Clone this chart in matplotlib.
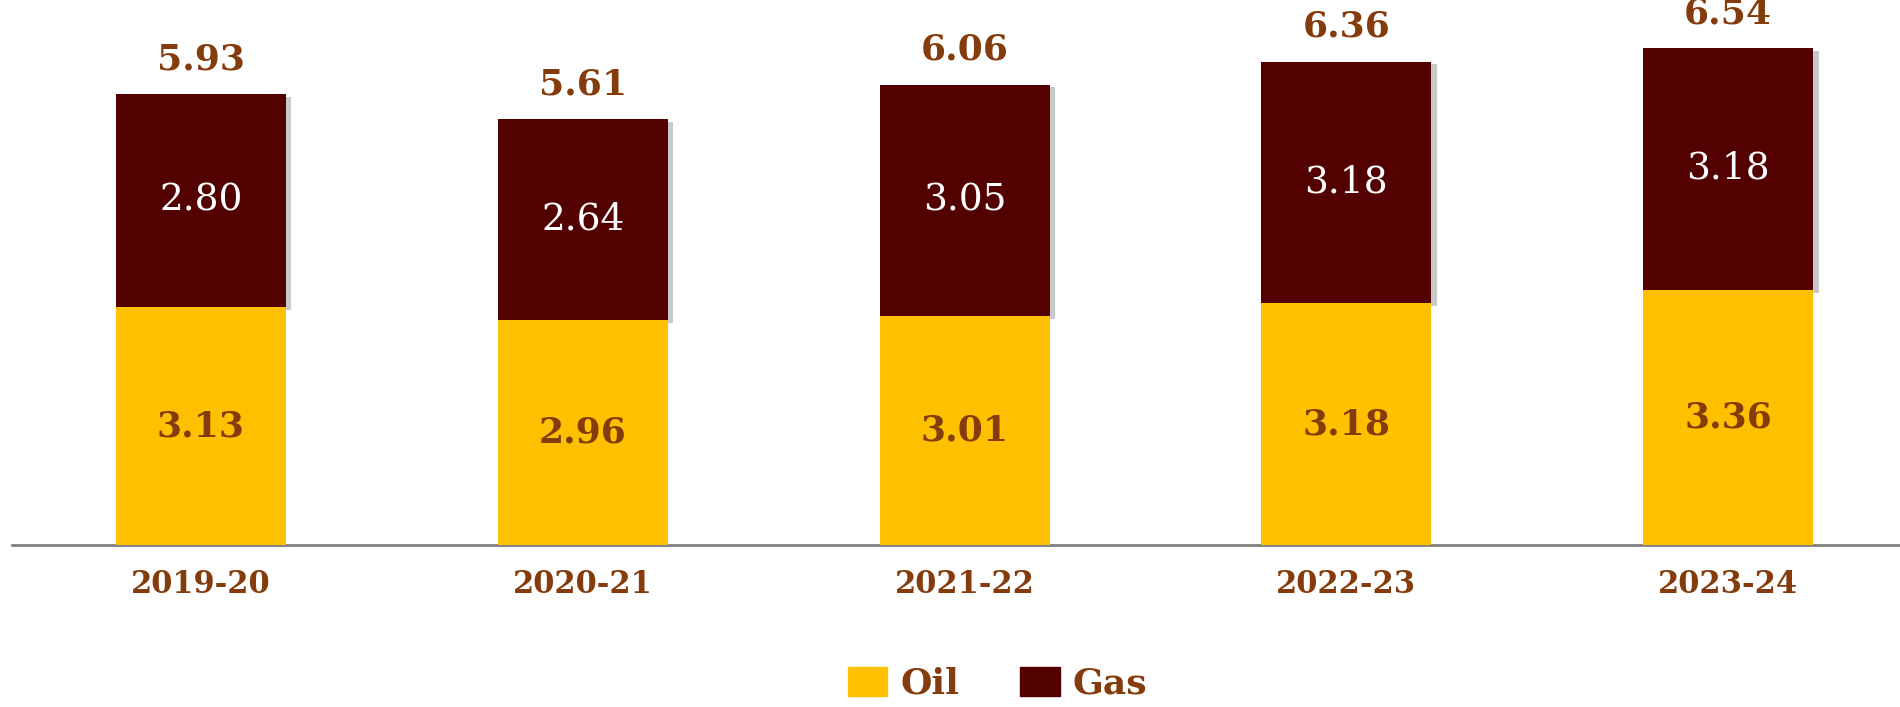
import matplotlib
matplotlib.use("Agg")
import matplotlib.pyplot as plt
import matplotlib.patheffects as pe
from matplotlib.patches import Patch

# Dane: wydobycie ropy i gazu w kolejnych latach
years = ["2019-20", "2020-21", "2021-22", "2022-23", "2023-24"]
oil = [3.13, 2.96, 3.01, 3.18, 3.36]
gas = [2.80, 2.64, 3.05, 3.18, 3.18]
totals = [5.93, 5.61, 6.06, 6.36, 6.54]

OIL_COLOR = "#FFC000"
GAS_COLOR = "#530000"
TEXT_COLOR = "#843C0C"

plt.rcParams["font.family"] = ["DejaVu Serif"]

fig = plt.figure(figsize=(19, 7.07), dpi=100)
ax = fig.add_axes([0.0063, 0.229, 0.9937, 0.7525])

x = list(range(len(years)))
width = 0.445

ax.bar(x, oil, width=width, color=OIL_COLOR, zorder=4)
gas_bars = ax.bar(x, gas, width=width, bottom=oil, color=GAS_COLOR, zorder=3)

# lekki cien po prawej stronie slupkow gazu
for b in gas_bars:
    b.set_path_effects([
        pe.SimplePatchShadow(offset=(4, -2), shadow_rgbFace="#888888", alpha=0.45),
        pe.Normal(),
    ])

# etykiety wartosci
for i in x:
    ax.text(i, oil[i] / 2, f"{oil[i]:.2f}", ha="center", va="center",
            fontsize=26, fontweight="bold", color=TEXT_COLOR, zorder=5)
    ax.text(i, oil[i] + gas[i] / 2, f"{gas[i]:.2f}", ha="center", va="center",
            fontsize=27, color="white", zorder=5)
    ax.annotate(f"{totals[i]:.2f}", (i, oil[i] + gas[i]), xytext=(0, 25),
                textcoords="offset points", ha="center", va="center",
                fontsize=26, fontweight="bold", color=TEXT_COLOR)

ax.set_xlim(-0.495, 4.45)
ax.set_ylim(0, 7)
ax.set_xticks(x)
ax.set_xticklabels(years, fontsize=22, fontweight="bold", color=TEXT_COLOR)
ax.tick_params(axis="x", length=0, pad=17)
ax.set_yticks([])

for side in ["top", "right", "left"]:
    ax.spines[side].set_visible(False)
ax.spines["bottom"].set_color("#808080")
ax.spines["bottom"].set_linewidth(2)

handles = [Patch(color=OIL_COLOR, label="Oil"), Patch(color=GAS_COLOR, label="Gas")]
leg = fig.legend(handles=handles, loc="lower center", bbox_to_anchor=(0.525, -0.022),
                 ncol=2, frameon=False, handlelength=1.1, handleheight=0.85,
                 handletextpad=0.35, columnspacing=1.7, borderpad=0.1,
                 prop={"size": 26, "weight": "bold"})
for t in leg.get_texts():
    t.set_color(TEXT_COLOR)

fig.savefig("out.png", dpi=100)
